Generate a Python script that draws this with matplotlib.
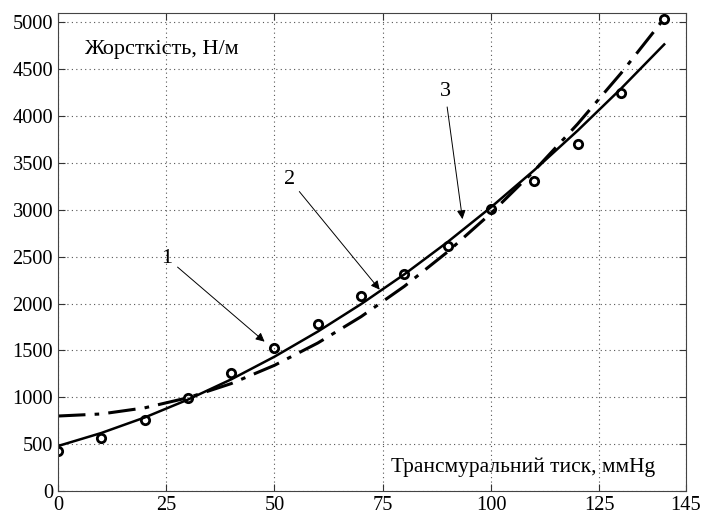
import matplotlib

matplotlib.use("Agg")

import matplotlib.pyplot as plt

# measured points (circles)
pressure = [0, 10, 20, 30, 40, 50, 60, 70, 80, 90, 100, 110, 120, 130, 140]
stiffness = [430, 568, 757, 988, 1261, 1528, 1780, 2075, 2310, 2612, 3006, 3308, 3699, 4250, 5032]

# curve 1/3 (solid) and curve 2 (dash-dot)
curve_x = [0, 10, 20, 30, 40, 50, 60, 70, 80, 90, 100, 110, 120, 130, 140]
solid_y = [480, 619, 784, 975, 1191, 1433, 1701, 1994, 2312, 2657, 3027, 3423, 3844, 4291, 4764]
dashdot_y = [800, 822, 887, 995, 1146, 1341, 1579, 1860, 2184, 2552, 2963, 3417, 3915, 4455, 5040]

x_ticks = [0, 25, 50, 75, 100, 125, 145]
y_ticks = list(range(0, 5001, 500))

plt.rcParams["font.family"] = ["Liberation Serif", "DejaVu Serif"]

fig = plt.figure(figsize=(7.02, 5.16), dpi=100)
ax = fig.add_axes([0.0826, 0.0484, 0.977 - 0.0826, 0.975 - 0.0484])

ax.plot(curve_x, dashdot_y, color="black", linestyle=(0, (9, 3, 1.5, 3)), linewidth=2.2)
ax.plot(curve_x, solid_y, color="black", linewidth=1.8)
ax.plot(pressure, stiffness, linestyle="none", marker="o", markersize=6,
        markerfacecolor="none", markeredgecolor="black", markeredgewidth=2)

ax.set_xlim(0, 145)
ax.set_ylim(0, 5100)
ax.set_xticks(x_ticks)
ax.set_yticks(y_ticks)
ax.tick_params(direction="in", length=5, labelsize=14.7, top=True, right=True,
               colors="#333333", labelcolor="black")
ax.grid(True, linestyle=(0, (1, 3)), color="#555555", linewidth=0.8)
for spine in ax.spines.values():
    spine.set_color("#444444")

ax.text(6, 4712, "Жорсткість, Н/м", fontsize=16, va="center", ha="left")
ax.text(77, 256, "Трансмуральний тиск, ммHg", fontsize=15.4, va="center", ha="left")

arrow = dict(arrowstyle="-|>", color="black", linewidth=0.7, mutation_scale=13)
ax.annotate("1", xy=(48.2, 1574), xytext=(25.2, 2484), fontsize=16,
            ha="center", va="center", arrowprops=arrow)
ax.annotate("2", xy=(74.7, 2125), xytext=(53.4, 3326), fontsize=16,
            ha="center", va="center", arrowprops=arrow)
ax.annotate("3", xy=(93.5, 2871), xytext=(89.4, 4257), fontsize=16,
            ha="center", va="center", arrowprops=arrow)

fig.savefig("out.png", dpi=100)
